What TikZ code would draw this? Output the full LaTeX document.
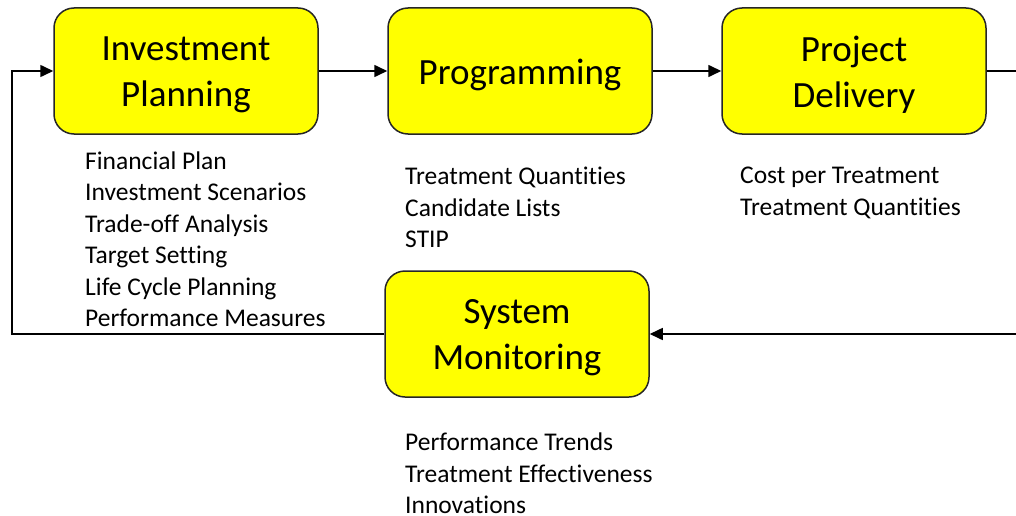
\documentclass[tikz,border=0pt]{standalone}
\usepackage{fontspec}
\setmainfont{Carlito}[Ligatures=NoCommon]
\usetikzlibrary{arrows.meta}
\definecolor{stagefill}{RGB}{255,255,0}
\begin{document}
\begin{tikzpicture}[x=1pt,y=-1pt,
  stage/.style={draw=black!85, line width=1.5pt, fill=stagefill, rounded corners=20pt,
    minimum width=264pt, minimum height=126pt, inner sep=0pt},
  stagetext/.style={align=center, inner sep=0pt, yshift=-4pt,
    font=\fontsize{37}{46}\selectfont},
  items/.style={anchor=north west, align=left, inner sep=0pt,
    font=\fontsize{25.5}{31.5}\selectfont},
  flow/.style={line width=1.6pt, -{Triangle[length=13pt,width=12pt]}}]
\useasboundingbox (0,0) rectangle (1016,516);
\clip (0,0) rectangle (1016,516);

% process stages
\node[stage, label={[stagetext]center:Investment\\Planning}] (ip) at (186,71) {};
\node[stage, label={[stagetext]center:Programming}] (pr) at (520,71) {};
\node[stage, label={[stagetext]center:Project\\Delivery}] (pd) at (854,71) {};
\node[stage, label={[stagetext]center:System\\Monitoring}] (sm) at (517,334) {};

% outputs of each stage
\node[items] (ipl) at (85,151.5) {Financial Plan\\Investment Scenarios\\Trade-off Analysis\\Target Setting\\Life Cycle Planning\\Performance Measures};
\node[items] (prl) at (405,167) {Treatment Quantities\\Candidate Lists\\STIP};
\node[items] (pdl) at (740,167) {Cost per Treatment\\Treatment Quantities};
\node[items] (sml) at (405,433) {Performance Trends\\Treatment Effectiveness\\Innovations};

% cycle connectors
\coordinate (rr) at (1030,334);
\coordinate (ll) at (12,334);
\draw[flow] (ip.east) -- (pr.west);
\draw[flow] (pr.east) -- (pd.west);
\draw[flow] (pd.east) -| (rr) -- (sm.east);
\draw[flow] (sm.west) -- (ll) |- (ip.west);
\end{tikzpicture}
\end{document}
